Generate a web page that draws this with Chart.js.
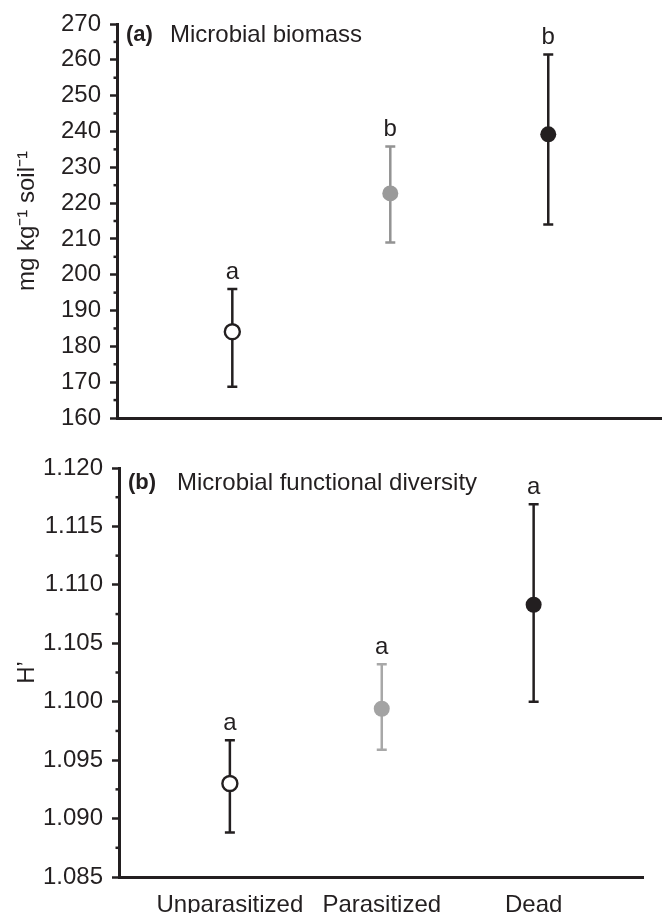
<!DOCTYPE html>
<html>
<head>
<meta charset="utf-8">
<script src="https://cdn.jsdelivr.net/npm/chart.js@4.4.1/dist/chart.umd.min.js"></script>
<style>
  html, body { margin: 0; padding: 0; background: #fff; }
  body { width: 662px; height: 913px; position: relative; overflow: hidden; }
  .panel { position: absolute; left: 0; width: 662px; }
  #topPanel { top: 0; height: 445px; }
  #bottomPanel { top: 440px; height: 473px; }
</style>
</head>
<body>
<div class="panel" id="topPanel"><canvas id="biomassChart"></canvas></div>
<div class="panel" id="bottomPanel"><canvas id="diversityChart"></canvas></div>
<script>
const categories = ["Unparasitized", "Parasitized", "Dead"];

// (a) microbial biomass, mg kg-1 soil-1
const biomassMean = [184.1, 222.7, 239.2];
const biomassLower = [168.7, 209.0, 214.0];
const biomassUpper = [196.0, 235.8, 261.5];
const biomassLetters = ["a", "b", "b"];
const biomassTicks = [160, 270, 10];

// (b) microbial functional diversity, H'
const diversityMean = [1.0930, 1.0994, 1.1083];
const diversityLower = [1.0888, 1.0959, 1.1000];
const diversityUpper = [1.0967, 1.1032, 1.1169];
const diversityLetters = ["a", "a", "a"];
const diversityTicks = [1.085, 1.12, 0.005];

const INK = "#231f20";
const FONT = "'Liberation Sans', Arial, Helvetica, sans-serif";
const FONT_SIZE = 24;

// error bars, significance letters, minor ticks and the panel caption
const panelExtras = {
  id: "panelExtras",
  beforeDatasetsDraw(chart, args, opts) {
    const ctx = chart.ctx;
    const x = chart.scales.x;
    const y = chart.scales.y;
    ctx.save();
    ctx.lineWidth = 2.5;
    opts.lower.forEach((lo, i) => {
      const px = x.getPixelForValue(i + 1);
      const top = y.getPixelForValue(opts.upper[i]);
      const bot = y.getPixelForValue(lo);
      ctx.strokeStyle = opts.barColors[i];
      ctx.beginPath();
      ctx.moveTo(px, top);
      ctx.lineTo(px, bot);
      ctx.moveTo(px - 5, top);
      ctx.lineTo(px + 5, top);
      ctx.moveTo(px - 5, bot);
      ctx.lineTo(px + 5, bot);
      ctx.stroke();
    });
    ctx.restore();
  },
  afterDraw(chart, args, opts) {
    const ctx = chart.ctx;
    const x = chart.scales.x;
    const y = chart.scales.y;
    const area = chart.chartArea;
    ctx.save();

    // minor ticks halfway between the labelled ones
    ctx.strokeStyle = INK;
    ctx.lineWidth = 2.5;
    const step = opts.step;
    for (let v = y.min + step / 2; v < y.max; v += step) {
      const py = y.getPixelForValue(v);
      ctx.beginPath();
      ctx.moveTo(area.left - 3.5, py);
      ctx.lineTo(area.left, py);
      ctx.stroke();
    }

    // letters above the error bars
    ctx.fillStyle = INK;
    ctx.font = FONT_SIZE + "px " + FONT;
    ctx.textAlign = "center";
    ctx.textBaseline = "alphabetic";
    opts.letters.forEach((l, i) => {
      ctx.fillText(l, x.getPixelForValue(i + 1), y.getPixelForValue(opts.upper[i]) - 10);
    });

    // panel caption
    ctx.textAlign = "left";
    ctx.textBaseline = "middle";
    const cy = area.top + opts.captionDy;
    ctx.font = "bold 22px " + FONT;
    ctx.fillText(opts.tag, area.left + 9, cy);
    ctx.font = FONT_SIZE + "px " + FONT;
    ctx.fillText(opts.caption, area.left + opts.captionDx, cy);
    ctx.restore();
  },
};

function makePanel(canvasId, cfg) {
  const ctx = document.getElementById(canvasId).getContext("2d");
  const points = categories.map((c, i) => ({ x: i + 1, y: cfg.mean[i] }));
  return new Chart(ctx, {
    type: "scatter",
    data: {
      datasets: [
        {
          data: points,
          pointRadius: cfg.radius,
          pointHoverRadius: cfg.radius,
          pointBackgroundColor: cfg.fill,
          pointBorderColor: cfg.stroke,
          pointBorderWidth: cfg.strokeWidth,
          showLine: false,
        },
      ],
    },
    options: {
      responsive: true,
      maintainAspectRatio: false,
      animation: false,
      layout: {
        autoPadding: false,
        padding: { top: cfg.padTop, right: cfg.padRight, bottom: 0, left: 0 },
      },
      scales: {
        x: {
          type: "linear",
          min: 0.27,
          max: 3.72,
          afterBuildTicks: (scale) => {
            scale.ticks = categories.map((c, i) => ({ value: i + 1 }));
          },
          afterFit: (scale) => {
            scale.height = cfg.xHeight;
          },
          grid: { display: false },
          border: { display: true, color: INK, width: 3 },
          ticks: {
            display: cfg.showX,
            padding: 6,
            color: INK,
            font: { family: FONT, size: FONT_SIZE },
            maxRotation: 0,
            callback: (v) => categories[v - 1] || "",
          },
        },
        y: {
          min: cfg.ticks[0],
          max: cfg.ticks[1],
          afterFit: (scale) => {
            scale.width = cfg.yWidth;
          },
          grid: {
            drawOnChartArea: false,
            drawTicks: true,
            tickLength: 7,
            tickWidth: 2.5,
            tickColor: INK,
          },
          border: { display: true, color: INK, width: 3 },
          ticks: {
            stepSize: cfg.ticks[2],
            padding: 9,
            color: INK,
            font: { family: FONT, size: FONT_SIZE },
            callback: cfg.format,
          },
          title: {
            display: true,
            text: cfg.yTitle,
            color: INK,
            font: { family: FONT, size: FONT_SIZE },
            padding: { top: 13, bottom: 0 },
          },
        },
      },
      plugins: {
        legend: { display: false },
        tooltip: { enabled: false },
        panelExtras: {
          lower: cfg.lower,
          upper: cfg.upper,
          letters: cfg.letters,
          barColors: cfg.barColors,
          step: cfg.ticks[2],
          tag: cfg.tag,
          caption: cfg.caption,
          captionDx: cfg.captionDx,
          captionDy: cfg.captionDy,
        },
      },
    },
    plugins: [panelExtras],
  });
}

makePanel("biomassChart", {
  mean: biomassMean,
  lower: biomassLower,
  upper: biomassUpper,
  letters: biomassLetters,
  ticks: biomassTicks,
  format: (v) => String(Math.round(v)),
  yTitle: "mg kg\u207B\u00B9 soil\u207B\u00B9",
  fill: ["#ffffff", "#9a9a9a", INK],
  stroke: [INK, "#9a9a9a", INK],
  strokeWidth: [2.4, 0, 0],
  radius: [7.5, 8, 8],
  barColors: [INK, "#939393", INK],
  tag: "(a)",
  caption: "Microbial biomass",
  captionDx: 53,
  captionDy: 11,
  padTop: 24,
  padRight: 0,
  xHeight: 27,
  yWidth: 117,
  showX: false,
});

makePanel("diversityChart", {
  mean: diversityMean,
  lower: diversityLower,
  upper: diversityUpper,
  letters: diversityLetters,
  ticks: diversityTicks,
  format: (v) => v.toFixed(3),
  yTitle: "H\u2019",
  fill: ["#ffffff", "#a3a3a3", INK],
  stroke: [INK, "#a3a3a3", INK],
  strokeWidth: [2.4, 0, 0],
  radius: [7.5, 8, 8],
  barColors: [INK, "#a8a8a8", INK],
  tag: "(b)",
  caption: "Microbial functional diversity",
  captionDx: 58,
  captionDy: 15,
  padTop: 28,
  padRight: 19,
  xHeight: 36,
  yWidth: 119,
  showX: true,
});
</script>
</body>
</html>
